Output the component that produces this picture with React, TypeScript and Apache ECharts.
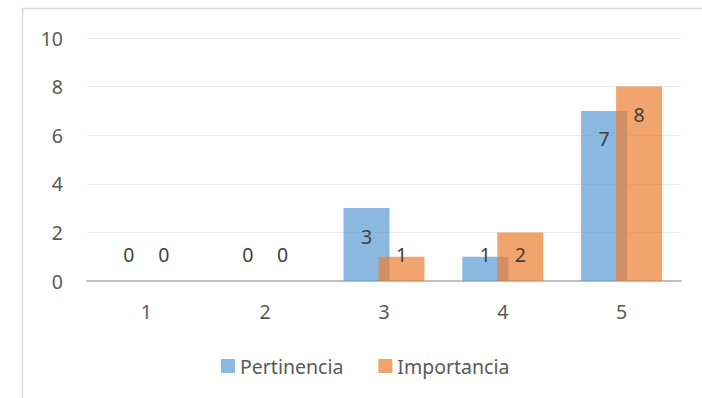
import React, { useEffect, useRef } from "react";
import * as echarts from "echarts";

const categories = ["1", "2", "3", "4", "5"];
const pertinencia = [0, 0, 3, 1, 7];
const importancia = [0, 0, 1, 2, 8];
const yTicks = { min: 0, max: 10, interval: 2 };

const FONT = "'Noto Sans', 'Open Sans', sans-serif";
const LABEL_COLOR = "#404040";
const AXIS_TEXT = "#595959";
const FS = 19.5;

// Tall bars carry their value just inside the top; short ones keep it above the base.
function barLabel(v: number) {
  return v >= 3
    ? { position: "insideTop", distance: 18 }
    : { position: "insideBottom", distance: 17 };
}

function toData(values: number[]) {
  return values.map((v) => ({ value: v, label: barLabel(v) }));
}

export default function App() {
  const ref = useRef<HTMLDivElement>(null);

  useEffect(() => {
    if (!ref.current) return;
    const chart = echarts.init(ref.current, undefined, { renderer: "svg" });
    const labelStyle = {
      show: true,
      color: LABEL_COLOR,
      fontSize: FS,
      fontFamily: FONT,
    };
    chart.setOption({
      animation: false,
      backgroundColor: "#ffffff",
      grid: { left: 87, right: 21, top: 38, bottom: 117, containLabel: false },
      legend: {
        left: 216,
        top: 351,
        icon: "rect",
        itemWidth: 14,
        itemHeight: 14,
        itemGap: 35,
        textStyle: { color: AXIS_TEXT, fontSize: FS, fontFamily: FONT },
        data: ["Pertinencia", "Importancia"],
      },
      xAxis: {
        type: "category",
        data: categories,
        axisTick: { show: false },
        axisLine: { lineStyle: { color: "#BFBFBF", width: 2 } },
        axisLabel: { color: AXIS_TEXT, fontSize: FS, fontFamily: FONT, margin: 20 },
      },
      yAxis: {
        type: "value",
        min: yTicks.min,
        max: yTicks.max,
        interval: yTicks.interval,
        axisLine: { show: false },
        axisTick: { show: false },
        splitLine: { lineStyle: { color: "#EBEBEB", width: 1 } },
        axisLabel: { color: AXIS_TEXT, fontSize: FS, fontFamily: FONT, margin: 24 },
      },
      series: [
        {
          name: "Pertinencia",
          type: "bar",
          data: toData(pertinencia),
          barWidth: 46,
          barGap: "-24%",
          itemStyle: { color: "rgba(91,155,213,0.7)" },
          label: labelStyle,
        },
        {
          name: "Importancia",
          type: "bar",
          data: toData(importancia),
          barWidth: 46,
          barGap: "-24%",
          itemStyle: { color: "rgba(237,125,49,0.7)" },
          label: labelStyle,
        },
      ],
      graphic: [
        {
          type: "polyline",
          silent: true,
          shape: { points: [[22.5, 398], [22.5, 8.5], [702, 8.5]] },
          style: { stroke: "#D9D9D9", lineWidth: 1.5, fill: null },
        },
      ],
    });
    return () => chart.dispose();
  }, []);

  return (
    <div
      ref={ref}
      style={{ position: "fixed", left: 0, top: 0, width: 702, height: 398 }}
    />
  );
}
